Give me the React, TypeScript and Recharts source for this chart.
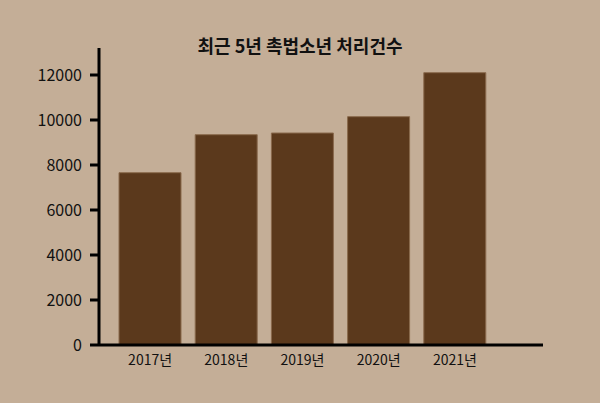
import React from "react";
import { BarChart, Bar, XAxis, YAxis } from "recharts";

const years = ["2017년", "2018년", "2019년", "2020년", "2021년"];
const cases = [7658, 9347, 9422, 10148, 12103];
const yTicks = [0, 2000, 4000, 6000, 8000, 10000, 12000];

const data = years.map((year, i) => ({ year, cases: cases[i] }));

const font = "'Noto Sans CJK KR', 'Noto Sans', sans-serif";

export default function App() {
  return (
    <div
      style={{
        position: "absolute",
        left: 0,
        top: 0,
        width: 600,
        height: 403,
        background: "#c4ae97",
        fontFamily: font,
      }}>
      <div
        style={{
          position: "absolute",
          top: 32,
          left: 0,
          width: 600,
          textAlign: "center",
          fontSize: 18,
          fontWeight: 700,
          color: "#111",
          lineHeight: "26px",
        }}>
        최근 5년 촉법소년 처리건수
      </div>
      <BarChart
        width={600}
        height={403}
        data={data}
        margin={{ top: 48, right: 57, bottom: 28, left: 39 }}>
        <XAxis
          dataKey="year"
          height={30}
          padding={{ left: 13, right: 50 }}
          tickLine={false}
          tickSize={0}
          tickMargin={10}
          axisLine={{ stroke: "#000", strokeWidth: 3 }}
          tick={{ fontSize: 14, fill: "#111", fontFamily: font }}
        />
        <YAxis
          width={60}
          domain={[0, 13200]}
          ticks={yTicks}
          tickSize={9}
          tickMargin={8}
          axisLine={{ stroke: "#000", strokeWidth: 3 }}
          tickLine={{ stroke: "#000", strokeWidth: 3 }}
          tick={{ fontSize: 16, fill: "#111", fontFamily: font }}
          allowDataOverflow
        />
        <Bar
          dataKey="cases"
          fill="#5b391c"
          stroke="#8a6a4d"
          strokeWidth={1}
          barSize={62}
          isAnimationActive={false}
        />
      </BarChart>
    </div>
  );
}
